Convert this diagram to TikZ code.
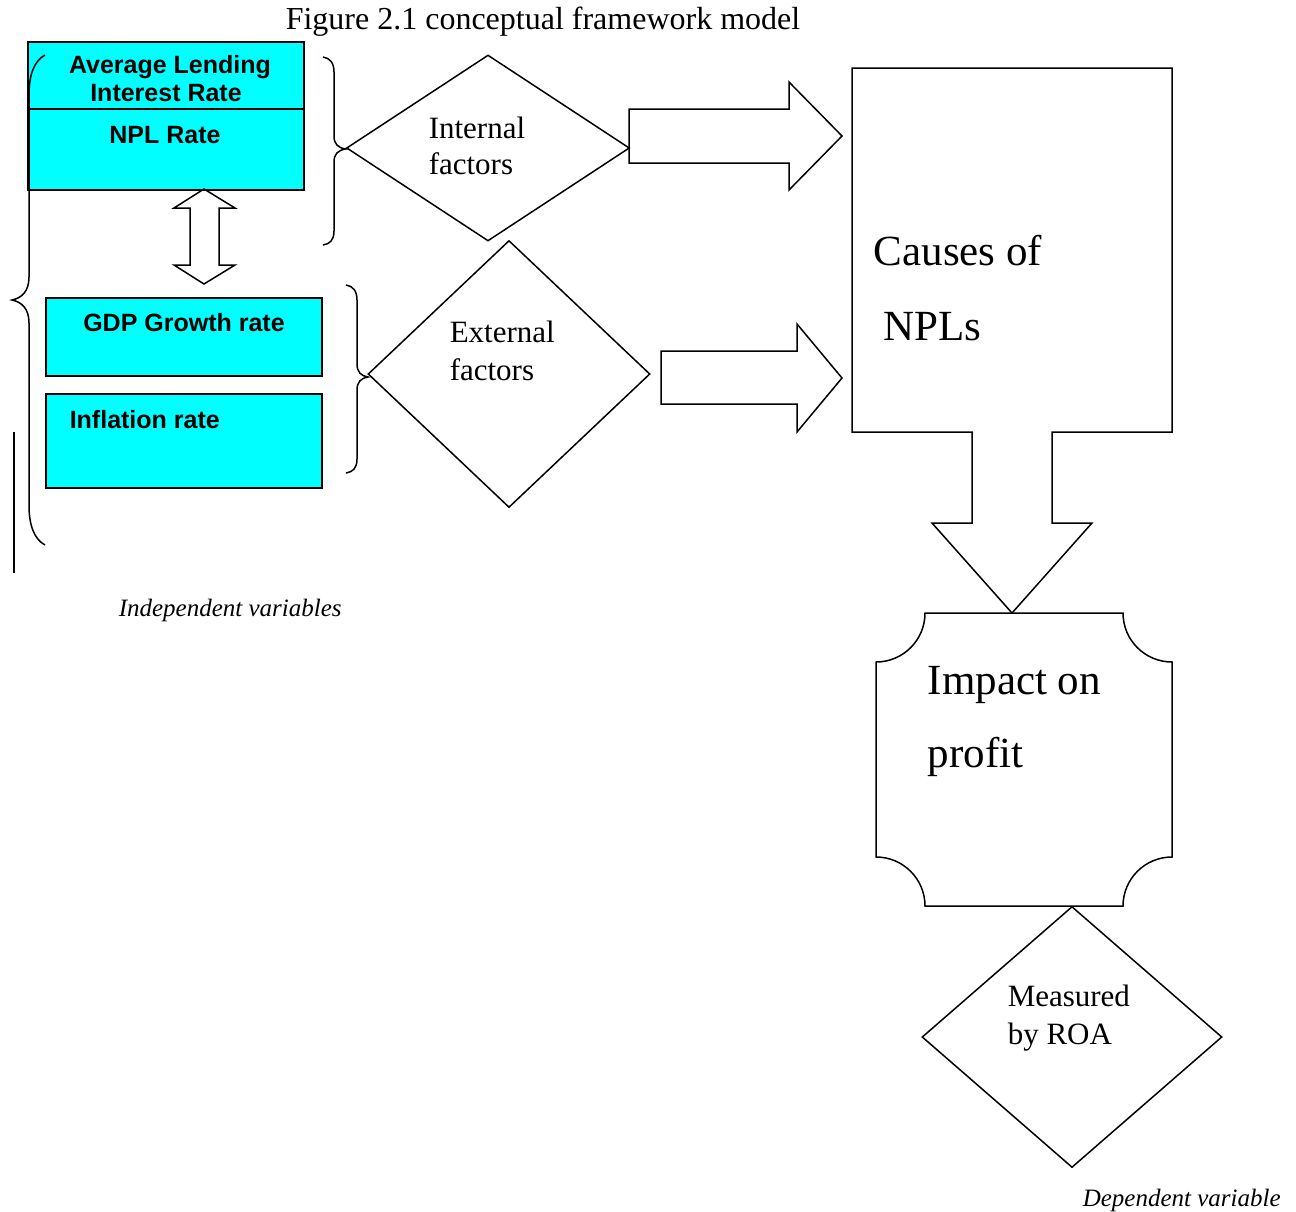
\documentclass[tikz,border=0pt]{standalone}
\usepackage{fontspec}
\setmainfont{Liberation Serif}
\newfontfamily\arialfont{Liberation Sans}
\usepackage{tikz}
\usetikzlibrary{shapes.geometric}

\definecolor{cajacian}{RGB}{0,255,255}

\tikzset{
  caja/.style={draw, fill=cajacian, line width=1.8pt, inner sep=0pt},
  rombo/.style={draw, diamond, line width=1.5pt, inner sep=0pt},
  negrita/.style={font=\arialfont\bfseries\fontsize{25}{29}\selectfont, inner sep=0pt, anchor=base},
  texto/.style={font=\fontsize{31}{36}\selectfont, inner sep=0pt, anchor=base west},
  grande/.style={font=\fontsize{43}{50}\selectfont, inner sep=0pt, anchor=base west},
  nota/.style={font=\itshape\fontsize{25}{29}\selectfont, inner sep=0pt, anchor=base west}
}

\begin{document}
\begin{tikzpicture}[x=1pt, y=-1pt, line width=1.5pt, line join=miter]
        \useasboundingbox (0,0) rectangle (1296,1211);

        \node[inner sep=0pt, anchor=base west, font=\fontsize{32}{38}\selectfont] (titulo) at (285,29) {Figure 2.1 conceptual framework model};

        %Variables internas
        \node[caja, minimum width=276pt, minimum height=67pt] (tasa) at (166,75.5) {};
        \node[caja, minimum width=276pt, minimum height=81pt] (npl) at (166,149.5) {};
        \node[negrita] (tasaA) at (170,73) {Average Lending};
        \node[negrita] (tasaB) at (166,101) {Interest Rate};
        \node[negrita] (nplT) at (165,143) {NPL Rate};

        %Flecha doble entre grupos
        \draw (204,189) -- (235,208) -- (219,208) -- (219,265) -- (235,265) -- (204,284)
              -- (174,265) -- (190,265) -- (190,208) -- (174,208) -- cycle;

        %Variables externas
        \node[caja, minimum width=276pt, minimum height=78pt] (gdp) at (184,337) {};
        \node[caja, minimum width=276pt, minimum height=94pt] (infl) at (184,441) {};
        \node[negrita] (gdpT) at (184,331) {GDP Growth rate};
        \node[negrita, anchor=base west] (inflT) at (69,428) {Inflation rate};

        %Llaves
        \draw (45,55) .. controls (34,61) and (29,75) .. (29,95) -- (29,277)
              .. controls (29,291) and (22,298) .. (12,300)
              .. controls (22,302) and (29,309) .. (29,323) -- (29,505)
              .. controls (29,525) and (34,539) .. (45,545);
        \draw (14,432) -- (14,573);
        \draw (323,57) .. controls (330,58) and (334,63) .. (334,72) -- (334,136)
              .. controls (334,144) and (338,148) .. (346,149)
              .. controls (338,150) and (334,154) .. (334,162) -- (334,231)
              .. controls (334,240) and (330,244) .. (323,245);
        \draw (346,285) .. controls (353,286) and (357,291) .. (357,300) -- (357,364)
              .. controls (357,372) and (361,376) .. (368,377)
              .. controls (361,378) and (357,382) .. (357,390) -- (357,459)
              .. controls (357,468) and (353,472) .. (346,473);

        %Factores
        \node[rombo, minimum width=283pt, minimum height=186pt] (intf) at (488,148) {};
        \node[texto] (intA) at (428,138) {Internal};
        \node[texto] (intB) at (428,174) {factors};
        \node[rombo, minimum width=282pt, minimum height=267pt] (extf) at (509,374) {};
        \node[texto] (extA) at (449,342) {External};
        \node[texto] (extB) at (449,380) {factors};

        %Flechas hacia las causas
        \draw (629,109) -- (789,109) -- (789,82) -- (842,136) -- (789,190) -- (789,163) -- (629,163) -- cycle;
        \draw (661,351) -- (797,351) -- (797,324) -- (842,378) -- (797,432) -- (797,404) -- (661,404) -- cycle;

        %Causas con flecha hacia abajo
        \draw (852,68) -- (1172,68) -- (1172,432) -- (1052,432) -- (1052,523) -- (1092,523)
              -- (1012,613) -- (932,523) -- (972,523) -- (972,432) -- (852,432) -- cycle;
        \node[grande] (causA) at (873,265) {Causes of};
        \node[grande] (causB) at (883,340) {NPLs};

        %Impacto
        \draw (925,613) -- (1123,613) arc[start angle=180, end angle=90, radius=49]
              -- (1172,857) arc[start angle=270, end angle=180, radius=49]
              -- (925,906) arc[start angle=0, end angle=-90, radius=49]
              -- (876,662) arc[start angle=90, end angle=0, radius=49] -- cycle;
        \node[grande] (impA) at (927,694) {Impact on};
        \node[grande] (impB) at (927,767) {profit};

        \node[rombo, minimum width=300pt, minimum height=261pt] (roa) at (1072,1037) {};
        \node[texto] (roaA) at (1007,1006) {Measured};
        \node[texto] (roaB) at (1007,1044) {by ROA};

        \node[nota] (indep) at (118,616) {Independent variables};
        \node[nota] (dep) at (1082,1206) {Dependent variable};
    \end{tikzpicture}
\end{document}
